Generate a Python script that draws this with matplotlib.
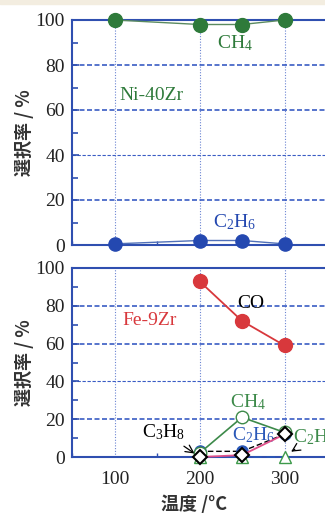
import matplotlib
matplotlib.use("Agg")
import matplotlib.pyplot as plt
from matplotlib.ticker import MultipleLocator

plt.rcParams["mathtext.default"] = "regular"

# ---- data ----
temps_ni = [100, 200, 250, 300]
ni_ch4 = [100, 98, 98, 100]
ni_c2h6 = [0.5, 2, 2, 0.5]

temps_fe = [200, 250, 300]
fe_co = [93, 72, 59]
fe_ch4 = [2, 21, 13]
fe_c2h6 = [3, 3, 12]
fe_c3h8 = [0, 1, 12]
fe_c2h4 = [0, 0, 0]

xticks = [100, 200, 300]
yticks = [0, 20, 40, 60, 80, 100]

SERIF = ["Liberation Serif", "DejaVu Serif"]
CJK = ["Noto Sans CJK JP", "DejaVu Sans"]
BLUE = "#2f4fb0"
GRID = "#3a5cc4"
GREEN = "#2e7a3a"
RED = "#d8383c"
FS = 14

fig = plt.figure(figsize=(3.25, 5.13), dpi=100)
W, H = 325, 513
def pos(left, top, bottom, right):
    return [left / W, 1 - bottom / H, (right - left) / W, (bottom - top) / H]

# faint beige strip at the top of the scan
fig.patches.append(plt.Rectangle((0, 1 - 4 / H), 1, 4 / H, transform=fig.transFigure,
                                 color="#f3ede0", zorder=0))

ax1 = fig.add_axes(pos(72, 20, 245, 335.5))
ax2 = fig.add_axes(pos(72, 268, 457, 335.5))

for ax in (ax1, ax2):
    ax.set_xlim(50, 360)
    ax.set_ylim(0, 100)
    ax.set_xticks(xticks)
    ax.set_yticks(yticks)
    ax.yaxis.set_minor_locator(MultipleLocator(10))
    ax.xaxis.set_minor_locator(MultipleLocator(50))
    for s in ax.spines.values():
        s.set_color(BLUE)
        s.set_linewidth(1.5)
    ax.tick_params(axis="both", which="both", direction="in", colors=BLUE,
                   labelcolor="#222222", labelsize=FS)
    ax.tick_params(axis="y", which="major", length=5, width=1.2, pad=5)
    ax.tick_params(axis="y", which="minor", length=4, width=1.2)
    ax.tick_params(axis="x", which="major", length=0, pad=10)
    ax.tick_params(axis="x", which="minor", length=3, width=1.0)
    for lab in ax.get_xticklabels() + ax.get_yticklabels():
        lab.set_fontfamily(SERIF)
    for y in [20, 40, 60, 80]:
        ax.axhline(y, color=GRID, lw=1.2 if y != 40 else 0.8,
                   ls=(0, (3, 1.5)), zorder=1)
    for x in xticks:
        ax.axvline(x, color=GRID, lw=0.8, ls=(0, (1, 1.5)), alpha=0.75, zorder=1)
    ax.set_ylabel("選択率 / %", family=CJK, fontsize=13, color="#333333",
                  fontweight="bold", labelpad=1)

ax1.tick_params(axis="x", labelbottom=False)

# top panel
ax1.plot(temps_ni, ni_ch4, color="#5a8a60", lw=1.0, marker="o", ms=10,
         mfc=GREEN, mec=GREEN, zorder=3, clip_on=False)
ax1.plot(temps_ni, ni_c2h6, color="#5070b8", lw=1.0, marker="o", ms=9.5,
         mfc="#2448b0", mec="#2448b0", zorder=3, clip_on=False)
ax1.text(221, 87.5, "CH$_4$", color=GREEN, fontsize=FS, family=SERIF, ha="left",
         va="baseline")
ax1.text(106, 64.5, "Ni-40Zr", color=GREEN, fontsize=FS, family=SERIF, ha="left",
         va="baseline")
ax1.text(216, 8, "C$_2$H$_6$", color="#2448b0", fontsize=FS, family=SERIF, ha="left",
         va="baseline")

# bottom panel
ax2.plot(temps_fe, fe_co, color=RED, lw=1.3, marker="o", ms=10,
         mfc=RED, mec=RED, zorder=4)
ax2.plot(temps_fe, fe_ch4, color="#3d8a4a", lw=1.2, marker="o", ms=9,
         mfc="white", mec="#3d8a4a", zorder=4, clip_on=False)
ax2.plot(temps_fe, fe_c2h6, color="black", lw=1.0, ls=(0, (4, 2)), marker="o", ms=8,
         mfc="#2a58b8", mec="#2a58b8", zorder=3, clip_on=False)
ax2.plot(temps_fe, fe_c2h4, color="#2a58b8", lw=1.2, ls=(0, (5, 3)), marker="^", ms=9,
         mfc="white", mec="#3d9a4a", zorder=3, clip_on=False)
ax2.plot(temps_fe, fe_c3h8, color="#e0508a", lw=1.3, marker="D", ms=7.5,
         mfc="white", mec="black", mew=1.5, zorder=5, clip_on=False)

ax2.text(245, 79, "CO", color="black", fontsize=FS, family=SERIF, ha="left",
         va="baseline")
ax2.text(109, 70, "Fe-9Zr", color=RED, fontsize=FS, family=SERIF, ha="left",
         va="baseline")
ax2.text(236, 26.5, "CH$_4$", color="#3d8a4a", fontsize=FS, family=SERIF, ha="left",
         va="baseline")
ax2.text(238, 9, "C$_2$H$_6$", color="#2a58b8", fontsize=FS, family=SERIF, ha="left",
         va="baseline")
ax2.annotate("C$_3$H$_8$", xy=(197, 1), xytext=(132, 10.5), color="black",
             fontsize=FS, family=SERIF, ha="left", va="baseline",
             arrowprops=dict(arrowstyle="->", color="black", lw=0.9,
                             shrinkA=2, shrinkB=2))
ax2.annotate("C$_2$H$_4$", xy=(305, 2), xytext=(310, 8), color="#3d8a4a",
             fontsize=FS, family=SERIF, ha="left", va="baseline",
             annotation_clip=False,
             arrowprops=dict(arrowstyle="->", color="black", lw=0.9,
                             shrinkA=0, shrinkB=2))

ax2.set_xlabel("温度 /°C", family=CJK, fontsize=13, color="#333333",
               fontweight="bold")
ax2.xaxis.set_label_coords((194 - 72) / (335.5 - 72), -0.20)

fig.savefig("out.png", dpi=100)
